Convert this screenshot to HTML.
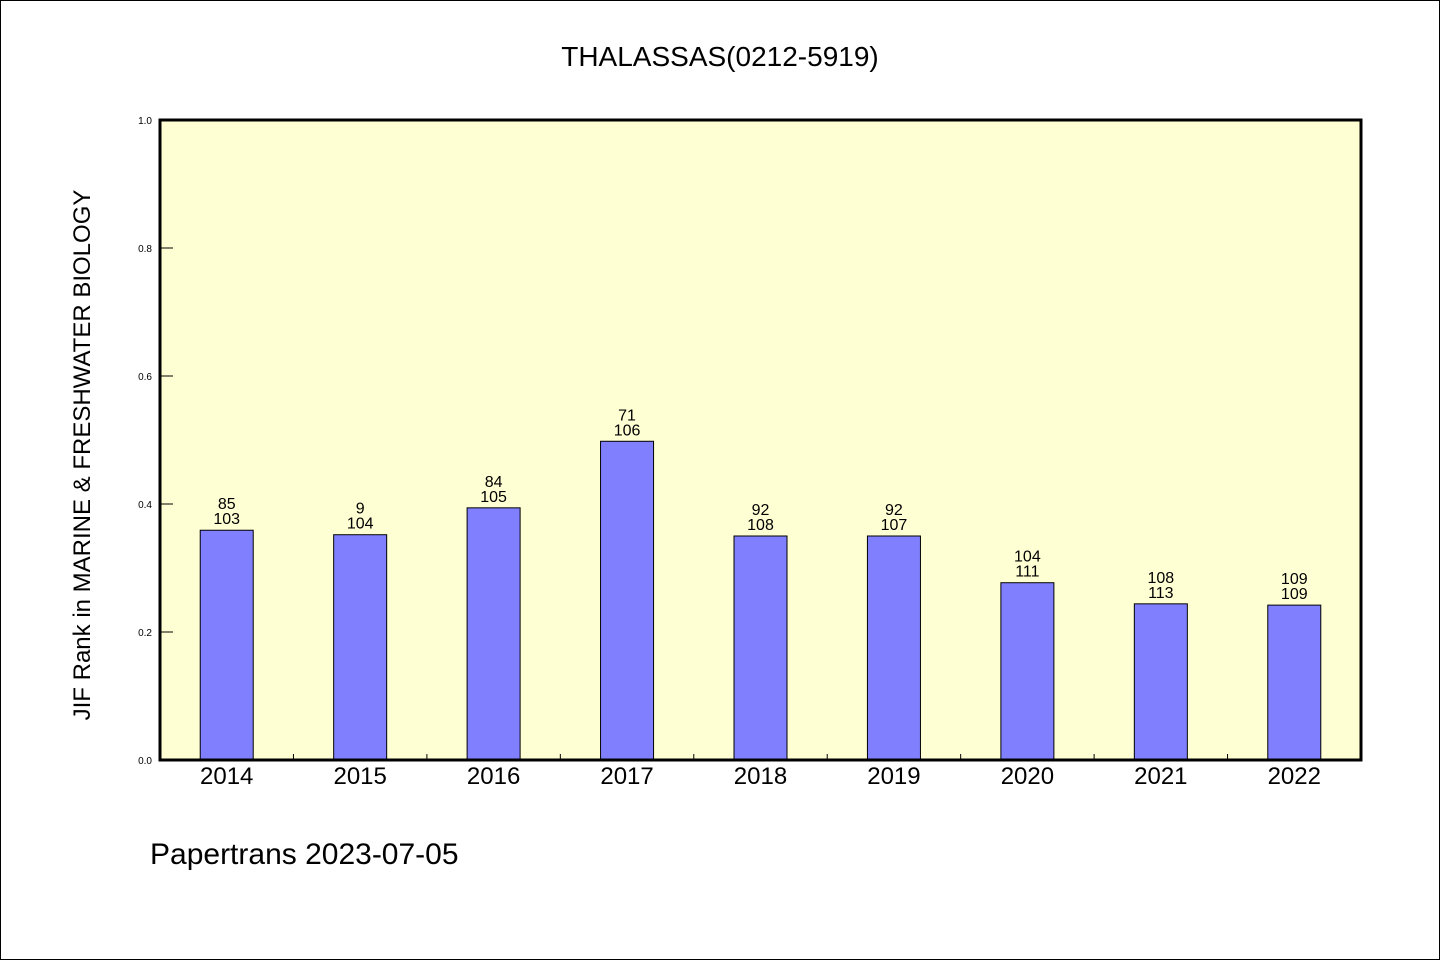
<!DOCTYPE html>
<html><head><meta charset="utf-8"><style>
body{margin:0;background:#fff}
svg{display:block;font-family:"WenQuanYi Zen Hei","Liberation Sans",sans-serif}
</style></head><body>
<svg width="1440" height="960">
<rect x="0.5" y="0.5" width="1439" height="959" fill="#fff" stroke="#000"/>
<text x="720" y="66" font-size="28" text-anchor="middle">THALASSAS(0212-5919)</text>
<rect x="160" y="120" width="1201" height="640" fill="#ffffd4"/>
<g id="marks"></g>
<rect x="160" y="120" width="1201" height="640" fill="none" stroke="#000" stroke-width="3"/>
<text transform="translate(90,455) rotate(-90)" font-size="24" text-anchor="middle">JIF Rank in MARINE &amp; FRESHWATER BIOLOGY</text>
<text x="150" y="864" font-size="30">Papertrans 2023-07-05</text>
</svg>
<script>
const years=["2014","2015","2016","2017","2018","2019","2020","2021","2022"];
const values=[0.359,0.352,0.394,0.498,0.350,0.350,0.277,0.244,0.242];
const ranks=["85","9","84","71","92","92","104","108","109"];
const totals=["103","104","105","106","108","107","111","113","109"];
const yTicks=[0,0.2,0.4,0.6,0.8,1.0];
const X0=160,X1=1361,Y0=760,Y1=120;
const band=(X1-X0)/years.length;
const xc=i=>X0+band*(i+0.5);
const y=v=>Y0-(Y0-Y1)*v;
const NS="http://www.w3.org/2000/svg";
const g=document.getElementById('marks');
function mk(t,a){const e=document.createElementNS(NS,t);for(const k in a)e.setAttribute(k,a[k]);g.appendChild(e);return e;}
yTicks.forEach(v=>{
 const l=mk('line',{x1:X0,x2:X0+13,y1:y(v),y2:y(v),stroke:'#000'});
 
 
 const t=mk('text',{x:X0-8,y:y(v)+4,'font-size':10,'text-anchor':'end'});
 t.textContent=v.toFixed(1);
 
 
});
years.forEach((yr,i)=>{
 if(i>0){const tk=mk('line',{x1:X0+band*i,x2:X0+band*i,y1:Y0,y2:Y0-6,stroke:'#000'});
 
 }
 const b=mk('rect',{x:xc(i)-26.5,y:y(values[i]),width:53,height:Y0-y(values[i]),fill:'#8080ff',stroke:'#000'});
 
 
 const t1=mk('text',{x:xc(i),y:y(values[i])-21,'font-size':16,'text-anchor':'middle'});
 t1.textContent=ranks[i];
 
 
 const t2=mk('text',{x:xc(i),y:y(values[i])-6,'font-size':16,'text-anchor':'middle'});
 t2.textContent=totals[i];
 
 
 const xl=mk('text',{x:xc(i),y:784,'font-size':24,'text-anchor':'middle'});
 xl.textContent=yr;
 
 
});
</script>
</body></html>
